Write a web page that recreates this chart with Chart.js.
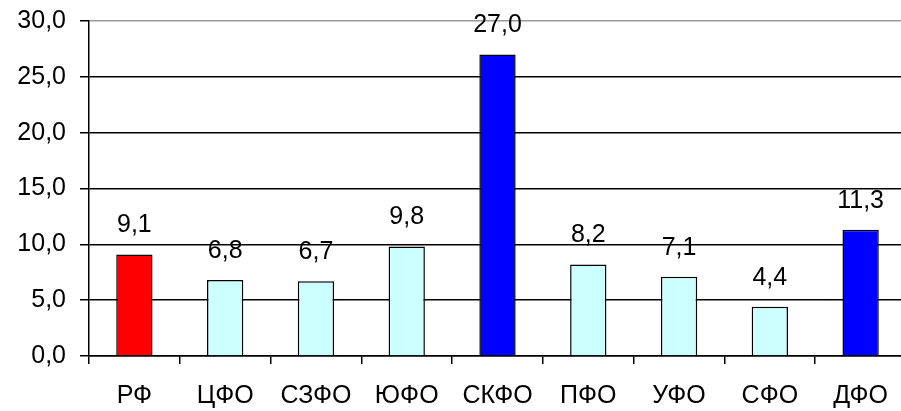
<!DOCTYPE html>
<html><head><meta charset="utf-8">
<script src="https://cdn.jsdelivr.net/npm/chart.js@4/dist/chart.umd.min.js"></script>
<style>
html,body{margin:0;padding:0;background:#fff;overflow:hidden;}
#wrap{position:relative;width:906px;height:411px;}
</style></head>
<body>
<div id="wrap"><canvas id="c"></canvas></div>
<script>
const categories = ['РФ','ЦФО','СЗФО','ЮФО','СКФО','ПФО','УФО','СФО','ДФО'];
const values = [9.1, 6.8, 6.7, 9.8, 27.0, 8.2, 7.1, 4.4, 11.3];
const barColors = ['#FF0000','#CCFFFF','#CCFFFF','#CCFFFF','#0000FF','#CCFFFF','#CCFFFF','#CCFFFF','#0000FF'];
const yTicks = [0,5,10,15,20,25,30];

const fmt = v => v.toFixed(1).replace('.', ',');
const FONT = "'Liberation Sans', Arial, sans-serif";
const FS = 25;

const labelPlugin = {
  id: 'valLabels',
  afterDatasetsDraw(chart) {
    const ctx = chart.ctx;
    const meta = chart.getDatasetMeta(0);
    ctx.save();
    ctx.font = FS + "px " + FONT;
    ctx.fillStyle = '#000';
    ctx.textAlign = 'center';
    ctx.textBaseline = 'middle';
    meta.data.forEach((bar, i) => {
      ctx.fillText(fmt(values[i]), bar.x, bar.y - 29);
    });
    ctx.restore();
  }
};

new Chart(document.getElementById('c'), {
  type: 'bar',
  data: {
    labels: categories,
    datasets: [{
      data: values,
      backgroundColor: barColors,
      borderColor: '#000',
      borderWidth: 1.5,
      categoryPercentage: 1,
      barPercentage: 0.4
    }]
  },
  options: {
    responsive: true,
    maintainAspectRatio: false,
    animation: false,
    layout: { padding: { top: 21, right: 0, bottom: 0, left: 0 } },
    plugins: { legend: { display: false }, tooltip: { enabled: false } },
    scales: {
      x: {
        offset: true,
        afterFit(s) { s.height = 55; s.paddingLeft = 0; s.paddingRight = 0; },
        grid: { offset: true, drawOnChartArea: false, drawTicks: true, tickLength: 8, color: '#000', lineWidth: 1.5 },
        border: { color: '#000', width: 1.5 },
        ticks: { color: '#000', font: { size: FS, family: FONT }, padding: 17, maxRotation: 0, autoSkip: false }
      },
      y: {
        min: 0, max: 30,
        afterFit(s) { s.width = 89; s.paddingTop = 0; s.paddingBottom = 0; },
        afterBuildTicks(s) { s.ticks = yTicks.map(v => ({ value: v })); },
        grid: {
          color: c => (c.tick && c.tick.value === 30) ? '#9a9a9a' : '#000',
          tickColor: '#000',
          lineWidth: 1.5, tickLength: 9
        },
        border: { color: '#000', width: 1.5 },
        ticks: { color: '#000', font: { size: FS, family: FONT }, padding: 14, callback: v => fmt(v) }
      }
    }
  },
  plugins: [labelPlugin]
});
</script>
</body></html>
